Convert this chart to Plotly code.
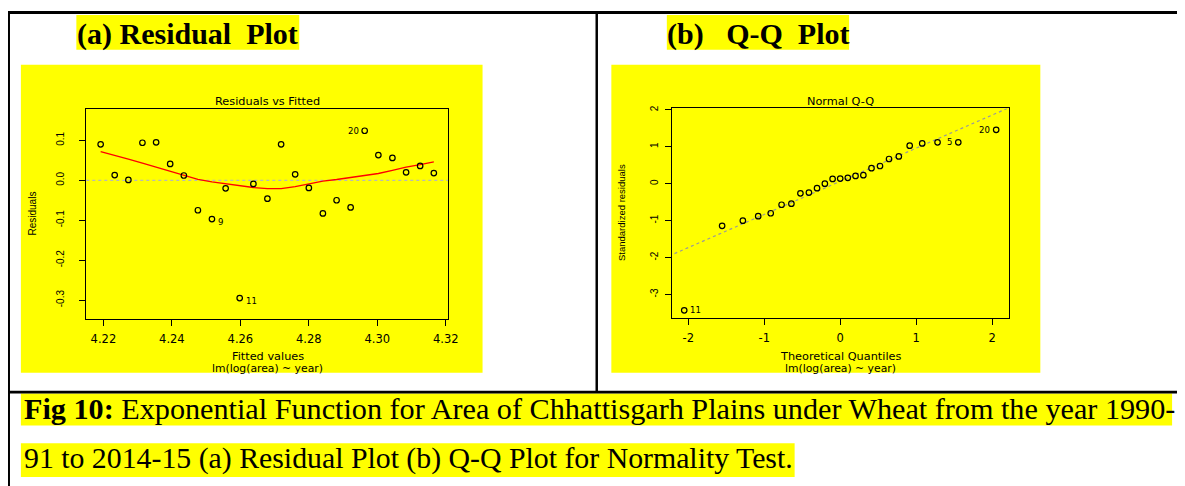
import plotly.graph_objects as go
import numpy as np

# ---------------- data ----------------
fitted = [4.2192, 4.2233, 4.2273, 4.2314, 4.2354, 4.2395, 4.2435, 4.2476,
          4.2517, 4.2557, 4.2598, 4.2638, 4.2679, 4.2719, 4.2760, 4.2800,
          4.2841, 4.2881, 4.2922, 4.2963, 4.3003, 4.3044, 4.3084, 4.3125,
          4.3165]
residuals = [0.090, 0.013, 0.001, 0.094, 0.095, 0.041, 0.012, -0.075,
             -0.097, -0.020, -0.295, -0.009, -0.046, 0.090, 0.015, -0.019,
             -0.083, -0.050, -0.068, 0.124, 0.063, 0.056, 0.020, 0.036,
             0.018]
lowess_fit = [0.072, 0.063, 0.053, 0.043, 0.033, 0.022, 0.012, 0.002,
              -0.004, -0.009, -0.014, -0.018, -0.021, -0.021, -0.016, -0.009,
              -0.002, 0.002, 0.007, 0.011, 0.017, 0.025, 0.033, 0.039, 0.046]
resid_labels = {11: "11", 9: "9", 20: "20"}       # obs number -> label

theor_q = [-2.054, -1.555, -1.282, -1.080, -0.915, -0.772, -0.643, -0.524,
           -0.412, -0.305, -0.202, -0.100, 0.000, 0.100, 0.202, 0.305,
           0.412, 0.524, 0.643, 0.772, 0.915, 1.080, 1.282, 1.555, 2.054]
std_resid = [-3.43, -1.14, -1.00, -0.88, -0.80, -0.57, -0.54, -0.26,
             -0.24, -0.12, 0.00, 0.13, 0.14, 0.16, 0.21, 0.23,
             0.42, 0.48, 0.67, 0.74, 1.03, 1.09, 1.12, 1.12, 1.46]
qq_labels = {0: "11", 23: "5", 24: "20"}          # sorted position -> label

x1_ticks = [4.22, 4.24, 4.26, 4.28, 4.30, 4.32]
x1_ticktext = ["4.22", "4.24", "4.26", "4.28", "4.30", "4.32"]
y1_ticks = [-0.3, -0.2, -0.1, 0.0, 0.1]
y1_ticktext = ["-0.3", "-0.2", "-0.1", "0.0", "0.1"]
x2_ticks = [-2, -1, 0, 1, 2]
x2_ticktext = ["-2", "-1", "0", "1", "2"]
y2_ticks = [-3, -2, -1, 0, 1, 2]
y2_ticktext = ["-3", "-2", "-1", "0", "1", "2"]

# ---------------- geometry helpers ----------------
W, H = 1185, 486
def fx(x):
    return x / W
def fy(y):
    return 1 - y / H

YEL = "#FFFF00"
SANS = "DejaVu Sans"
SANS2 = "Liberation Sans"
SERIF = "Liberation Serif"

fig = go.Figure()

# ---------- left: residuals vs fitted ----------
fig.add_trace(go.Scatter(x=fitted, y=lowess_fit, mode="lines",
                         line=dict(color="#FF0000", width=1.3),
                         xaxis="x", yaxis="y", hoverinfo="skip"))
fig.add_trace(go.Scatter(x=fitted, y=residuals, mode="markers",
                         marker=dict(symbol="circle-open", size=5.5,
                                     color="black", line=dict(width=1.2)),
                         xaxis="x", yaxis="y"))

# ---------- right: normal Q-Q ----------
q_lo, q_hi = np.quantile(std_resid, [0.25, 0.75])
zq = 0.6744898
slope = (q_hi - q_lo) / (2 * zq)
intercept = q_lo + zq * slope
qx = np.array([-2.4, 2.4])
fig.add_trace(go.Scatter(x=qx, y=intercept + slope * qx, mode="lines",
                         line=dict(color="#9A9A9A", width=1.2, dash="dot"),
                         xaxis="x2", yaxis="y2", hoverinfo="skip"))
fig.add_trace(go.Scatter(x=theor_q, y=std_resid, mode="markers",
                         marker=dict(symbol="circle-open", size=5.5,
                                     color="black", line=dict(width=1.2)),
                         xaxis="x2", yaxis="y2"))

annotations = []
# point labels
mid1 = (fitted[0] + fitted[-1]) / 2
for obs, lab in resid_labels.items():
    xv, yv = fitted[obs - 1], residuals[obs - 1]
    right = xv < mid1
    annotations.append(dict(x=xv, y=yv, xref="x", yref="y", text=lab,
                            showarrow=False, xanchor="left" if right else "right",
                            xshift=4 if right else -4, yshift=-3 if right else 0,
                            font=dict(family=SANS, size=8.5, color="black")))
for pos, lab in qq_labels.items():
    xv, yv = theor_q[pos], std_resid[pos]
    right = xv < 0
    annotations.append(dict(x=xv, y=yv, xref="x2", yref="y2", text=lab,
                            showarrow=False, xanchor="left" if right else "right",
                            xshift=4 if right else -4,
                            font=dict(family=SANS, size=8.5, color="black")))

def txt(x, y, s, size, family=SANS, angle=0, xanchor="center"):
    annotations.append(dict(x=fx(x), y=fy(y), xref="paper", yref="paper",
                            text=s, showarrow=False, xanchor=xanchor,
                            yanchor="middle", textangle=angle,
                            font=dict(family=family, size=size, color="black")))

# chart texts
txt(262, 91, "Residuals vs Fitted", 11.3)
txt(262, 348, "Fitted values", 11.3)
txt(262, 360, "lm(log(area) ~ year)", 10.8)
txt(25, 204, "Residuals", 10, family=SANS2, angle=-90)
txt(840, 91, "Normal Q-Q", 11.3)
txt(840, 348, "Theoretical Quantiles", 11.3)
txt(840, 360, "lm(log(area) ~ year)", 10.8)
txt(620, 203, "Standardized residuals", 9.5, family=SANS2, angle=-90)

# document texts
txt(181.5, 23, "<b>(a)\u00a0Residual\u00a0\u00a0Plot</b>", 30, family=SERIF)
txt(757, 23, "<b>(b)\u00a0\u00a0\u00a0Q-Q\u00a0\u00a0Plot</b>", 30, family=SERIF)
txt(14, 400.5, "<b>Fig 10:</b> Exponential Function for Area of Chhattisgarh "
    "Plains under Wheat from the year 1990-", 30.2, family=SERIF, xanchor="left")
txt(14, 450, "91 to 2014-15 (a) Residual Plot (b) Q-Q Plot for Normality Test.",
    29.8, family=SERIF, xanchor="left")

# ---------- shapes ----------
shapes = []
def rect(x0, y0, x1, y1, color, layer="below"):
    shapes.append(dict(type="rect", xref="paper", yref="paper",
                       x0=fx(x0), x1=fx(x1), y0=fy(y1), y1=fy(y0),
                       fillcolor=color, line=dict(width=0), layer=layer))

# highlights
rect(69, 4, 294, 39, YEL)
rect(665, 4, 849, 39, YEL)
rect(13, 385, 1175, 417, YEL)
rect(13, 435, 794, 469, YEL)
# chart panels
rect(13, 54, 479, 364, YEL)
rect(609, 54, 1042, 364, YEL)
# table borders
rect(0, 0, 1185, 3, "black", "above")
rect(0, 0, 2, 486, "black", "above")
rect(593, 0, 595.5, 384, "black", "above")
rect(0, 382, 1185, 385, "black", "above")

# zero line on residual plot
shapes.append(dict(type="line", xref="x domain", yref="y", x0=0, x1=1,
                   y0=0, y1=0, line=dict(color="#B8B8B8", width=1.2, dash="dot"),
                   layer="below"))

axis_common = dict(showgrid=False, zeroline=False, showline=True, mirror=True,
                   linecolor="black", linewidth=1, ticks="outside", ticklen=6,
                   tickwidth=1, tickcolor="black", fixedrange=True)

fig.update_layout(
    width=W, height=H, autosize=False,
    margin=dict(l=0, r=0, t=0, b=0),
    paper_bgcolor="white", plot_bgcolor="rgba(0,0,0,0)",
    showlegend=False,
    xaxis=dict(domain=[fx(79), fx(444)], range=[4.2150, 4.3206],
               tickvals=x1_ticks, ticktext=x1_ticktext,
               tickfont=dict(family=SANS, size=11.5, color="black"),
               anchor="y", ticklabelstandoff=3, **axis_common),
    yaxis=dict(domain=[fy(310), fy(99)], range=[-0.3475, 0.1775],
               tickvals=y1_ticks, ticktext=y1_ticktext, tickangle=-90,
               tickfont=dict(family=SANS2, size=10, color="black"),
               anchor="x", ticklabelstandoff=11, **axis_common),
    xaxis2=dict(domain=[fx(670), fx(1010)], range=[-2.218, 2.218],
                tickvals=x2_ticks, ticktext=x2_ticktext,
                tickfont=dict(family=SANS, size=11.5, color="black"),
                anchor="y2", ticklabelstandoff=3, **axis_common),
    yaxis2=dict(domain=[fy(309), fy(98)], range=[-3.64, 2.04],
                tickvals=y2_ticks, ticktext=y2_ticktext, tickangle=-90,
                tickfont=dict(family=SANS2, size=10, color="black"),
                anchor="x2", ticklabelstandoff=3, **axis_common),
    annotations=annotations,
    shapes=shapes,
)

fig.write_html("out.html")
